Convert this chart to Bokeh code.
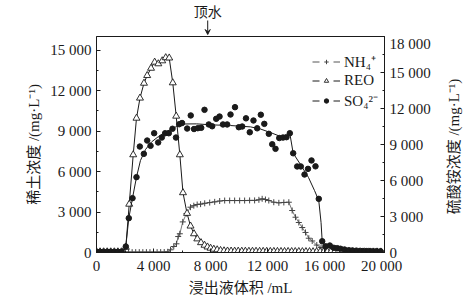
import math
from bokeh.plotting import figure
from bokeh.layouts import column, row
from bokeh.models import (Range1d, LinearAxis, FixedTicker, Legend, LegendItem,
                          Arrow, VeeHead, Label)
from bokeh.embed import file_html
from bokeh.resources import INLINE

# ---------------- data ----------------
x_ticks = [0, 4000, 8000, 12000, 16000, 20000]
x_tick_labels = ["0", "4 000", "8 000", "12 000", "16 000", "20 000"]
left_ticks = [0, 3000, 6000, 9000, 12000, 15000]
left_tick_labels = ["0", "3 000", "6 000", "9 000", "12 000", "15 000"]
right_ticks = [0, 3000, 6000, 9000, 12000, 15000, 18000]
right_tick_labels = ["0", "3 000", "6 000", "9 000", "12 000", "15 000", "18 000"]

# REO (left axis, mg/L)
reo_x = [0, 250, 500, 750, 1000, 1250, 1500, 1750, 2055, 2295, 2575, 2805, 3050, 3330,
         3555, 3825, 4080, 4335, 4610, 4855, 5100, 5350, 5590, 5845, 6065, 6350, 6595,
         6840, 7070, 7330, 7575, 7785, 8000, 8230, 8465, 8700, 8945, 9190, 9440, 9690,
         9940, 10190, 10440, 10690, 10940, 11190, 11440, 11690, 11940, 12190, 12440,
         12690, 12940, 13190, 13440, 13690, 13940, 14190, 14440, 14690, 14940, 15190,
         15440, 15690, 15940, 16190, 16440, 16690, 16940, 17190, 17440, 17690, 17940,
         18190, 18440, 18690, 18940, 19190, 19440, 19690, 19940]
reo_y = [50, 50, 50, 50, 50, 50, 50, 50, 390, 3580, 7240, 9950, 11440, 12540,
         13110, 13650, 14100, 13980, 14200, 14430, 14410, 12570, 10100, 7240, 4430, 2900, 1960,
         1390, 1010, 730, 540, 410, 320, 245, 200, 150, 125, 110, 105, 100,
         100, 95, 95, 90, 90, 90, 85, 85, 85, 80, 80,
         80, 75, 75, 75, 70, 70, 70, 65, 65, 65, 60,
         60, 60, 55, 55, 55, 50, 50, 50, 50, 45, 45,
         45, 45, 40, 40, 40, 40, 40, 40]

# NH4+ (right axis, mg/L)
nh4_x = [0, 250, 500, 750, 1000, 1250, 1500, 1750, 2000, 2250, 2500, 2750, 3000, 3250,
         3500, 3750, 4000, 4250, 4500, 4750, 5000, 5190, 5420, 5610, 5730, 5845, 6050,
         6310, 6590, 6825, 7060, 7300, 7590, 7940, 8290, 8640, 8990, 9340, 9690, 10040,
         10390, 10740, 11090, 11390, 11620, 11850, 12085, 12435, 12790, 13140, 13490,
         13725, 13960, 14190, 14430, 14660, 14890, 15130, 15450, 15750, 16060, 16400,
         16750, 17100, 17450, 17800, 18150, 18500, 18850, 19200, 19550, 19900]
nh4_y = [30, 30, 30, 30, 30, 30, 30, 30, 30, 30, 30, 30, 30, 30,
         30, 30, 30, 30, 35, 40, 60, 225, 500, 725, 1330, 1560, 2550,
         3250, 3775, 3900, 4000, 4030, 4100, 4160, 4220, 4290, 4330, 4330, 4330, 4330,
         4330, 4340, 4340, 4390, 4475, 4415, 4330, 4190, 4140, 4170, 4190,
         3500, 2940, 2500, 2080, 1670, 1190, 960, 620, 420, 225, 150,
         110, 90, 80, 70, 60, 60, 50, 50, 50, 50]

# SO4 2- measured points (right axis, mg/L)
so4_x = [0, 250, 500, 750, 1000, 1250, 1500, 1750, 2055, 2265, 2525, 2805, 3040, 3320,
         3555, 3790, 4045, 4325, 4580, 4815, 5070, 5330, 5575, 5800, 6000, 6360, 6610,
         6840, 7105, 7345, 7575, 7875, 8115, 8395, 8630, 8870, 9165, 9400, 9715, 9980,
         10220, 10485, 10750, 11010, 11270, 11525, 11770, 12085, 12325, 12555, 12820,
         13080, 13325, 13560, 13795, 14075, 14330, 14590, 14835, 15080, 15360, 15590,
         15830, 16060, 16365, 16645, 16890, 17115, 17395, 17700, 17955, 18240, 18520,
         18800, 19080, 19360, 19640, 19920]
so4_y = [60, 60, 60, 60, 60, 60, 60, 60, 500, 2860, 4530, 6280, 8830, 8220,
         9330, 8890, 9940, 9170, 9580, 9940, 9940, 10310, 9580, 10690, 10790, 10330, 11420,
         10290, 10360, 10390, 11890, 10670, 10520, 11140, 11330, 10670, 10670, 11500, 12110, 10440,
         10500, 11180, 10020, 11000, 10350, 11480, 10720, 9890, 9020, 8640, 9540,
         9580, 9610, 9940, 8270, 7170, 7170, 6500, 6970, 7670, 7180, 4470,
         940, 520, 580, 390, 360, 310, 250, 190, 170, 150, 130,
         125, 115, 110, 110, 100]

# SO4 2- trend curve (right axis, mg/L)
so4_fit_x = [0, 1895, 2055, 2265, 2525, 2805, 3085, 3435, 3860, 4350, 4910, 5610, 6170,
             7015, 8000, 9400, 10800, 11500, 12200, 12900, 13325, 13560, 13795, 14310,
             14870, 15290, 15590, 15750, 15830, 16060, 16765, 17820, 20200]
so4_fit_y = [100, 100, 500, 2860, 4530, 6280, 7670, 8580, 9210, 9670, 10080, 10500, 10710,
             10720, 10640, 10580, 10470, 10290, 10000, 9670, 9620, 9920, 8270, 7330,
             6250, 5170, 4330, 2500, 940, 500, 375, 210, 125]

annot_x = 7800
annot_text = "顶水"
x_label = "浸出液体积 /mL"
left_label = "稀土浓度 /(mg·L⁻¹)"
right_label = "硫酸铵浓度 /(mg·L⁻¹)"
legend_labels = ["NH₄⁺", "REO", "SO₄²⁻"]

# ---------------- figure ----------------
SERIF = "Liberation Serif"
CJK = "Liberation Serif, Noto Sans CJK SC"
INK = "#1a1a1a"
NAN = float("nan")

p = figure(frame_width=288, frame_height=216, output_backend="svg", toolbar_location=None,
           x_range=Range1d(0, 20200), y_range=Range1d(0, 16000),
           min_border_left=96, min_border_right=56, min_border_top=1, min_border_bottom=50)
p.extra_y_ranges = {"right": Range1d(0, 18000)}
p.xgrid.visible = False
p.ygrid.visible = False
p.outline_line_color = INK
p.outline_line_width = 1
p.background_fill_color = "white"
p.border_fill_color = "white"


def style_axis(ax, ticks, labels, minor, label_text, standoff):
    ax.ticker = FixedTicker(ticks=ticks, minor_ticks=minor)
    ax.major_label_overrides = {t: l for t, l in zip(ticks, labels)}
    ax.major_tick_in = 4
    ax.major_tick_out = 0
    ax.minor_tick_in = 2
    ax.minor_tick_out = 0
    ax.axis_line_color = INK
    ax.major_tick_line_color = INK
    ax.minor_tick_line_color = INK
    ax.major_label_text_font = SERIF
    ax.major_label_text_font_size = "15px"
    ax.major_label_text_color = INK
    ax.major_label_standoff = 5
    ax.axis_label = label_text
    ax.axis_label_text_font = CJK
    ax.axis_label_text_font_size = "15px"
    ax.axis_label_text_font_style = "normal"
    ax.axis_label_text_color = INK
    ax.axis_label_standoff = standoff


style_axis(p.xaxis[0], x_ticks, x_tick_labels, list(range(0, 20001, 2000)), x_label, 3)
style_axis(p.yaxis[0], left_ticks, left_tick_labels, list(range(0, 16001, 1500)), left_label, 5)

raxis = LinearAxis(y_range_name="right")
p.add_layout(raxis, "right")
style_axis(raxis, right_ticks, right_tick_labels, list(range(0, 18001, 1500)), None, 0)

# ---------------- series ----------------
nh4_line = p.line(nh4_x, nh4_y, y_range_name="right", line_color="#555555", line_width=0.8)
nh4_pts = p.scatter(nh4_x, nh4_y, y_range_name="right", marker="cross", size=6,
                    line_color="#444444", line_width=1)

reo_line = p.line(reo_x, reo_y, line_color=INK, line_width=1)
reo_pts = p.scatter(reo_x, reo_y, marker="triangle", size=7, line_color=INK,
                    fill_color="white", line_width=0.9)

so4_line = p.line(so4_fit_x, so4_fit_y, y_range_name="right", line_color=INK, line_width=1)
so4_pts = p.scatter(so4_x, so4_y, y_range_name="right", marker="circle", size=5.5,
                    line_color=INK, fill_color=INK)

# legend-only line glyphs (dash with a gap around the marker); single NaN point draws nothing
leg_nh4 = p.line([NAN], [NAN], line_color="#555555", line_width=1, line_dash="7 14 7")
leg_reo = p.line([NAN], [NAN], line_color=INK, line_width=1, line_dash="7 14 7")
leg_so4 = p.line([NAN], [NAN], line_color=INK, line_width=1, line_dash="7 14 7")

legend = Legend(items=[
    LegendItem(label=legend_labels[0], renderers=[leg_nh4, nh4_pts]),
    LegendItem(label=legend_labels[1], renderers=[leg_reo, reo_pts]),
    LegendItem(label=legend_labels[2], renderers=[leg_so4, so4_pts]),
], location=(216, 142))
legend.background_fill_alpha = 0
legend.border_line_alpha = 0
legend.label_text_font = SERIF
legend.label_text_font_size = "15px"
legend.label_text_color = INK
legend.glyph_width = 28
legend.glyph_height = 11
legend.label_height = 17
legend.label_standoff = 4
legend.spacing = 1
legend.padding = 0
legend.margin = 0
p.add_layout(legend)

# ---------------- right-hand axis title strip ----------------
rstrip = figure(frame_width=33, frame_height=267, output_backend="svg", toolbar_location=None,
                x_range=Range1d(0, 33), y_range=Range1d(0, 267),
                x_axis_location=None, y_axis_location=None,
                min_border_left=0, min_border_right=0, min_border_top=0, min_border_bottom=0)
rstrip.xgrid.visible = False
rstrip.ygrid.visible = False
rstrip.outline_line_color = None
rstrip.background_fill_color = "white"
rstrip.border_fill_color = "white"
rstrip.add_layout(Label(x=13, y=157, text=right_label, angle=math.pi / 2,
                        text_align="center", text_baseline="middle", text_font=CJK,
                        text_font_size="15px", text_color=INK))

# ---------------- top annotation strip (shares the x scale) ----------------
top = figure(frame_width=288, frame_height=35, output_backend="svg", toolbar_location=None,
             x_range=p.x_range, y_range=Range1d(0, 35),
             x_axis_location=None, y_axis_location=None,
             min_border_left=96, min_border_right=89, min_border_top=0, min_border_bottom=0)
top.xgrid.visible = False
top.ygrid.visible = False
top.outline_line_color = None
top.background_fill_color = "white"
top.border_fill_color = "white"
top.add_layout(Arrow(end=VeeHead(size=5, line_color=INK, fill_color=INK, line_width=1),
                     x_start=annot_x, y_start=15, x_end=annot_x, y_end=1,
                     line_color=INK, line_width=1))
top.add_layout(Label(x=annot_x, y=23, text=annot_text, text_align="center",
                     text_baseline="middle", text_font=CJK, text_font_size="14px",
                     text_color=INK))

layout = column(top, row(p, rstrip, spacing=0), spacing=0)
open("out.html", "w").write(file_html(layout, INLINE))
